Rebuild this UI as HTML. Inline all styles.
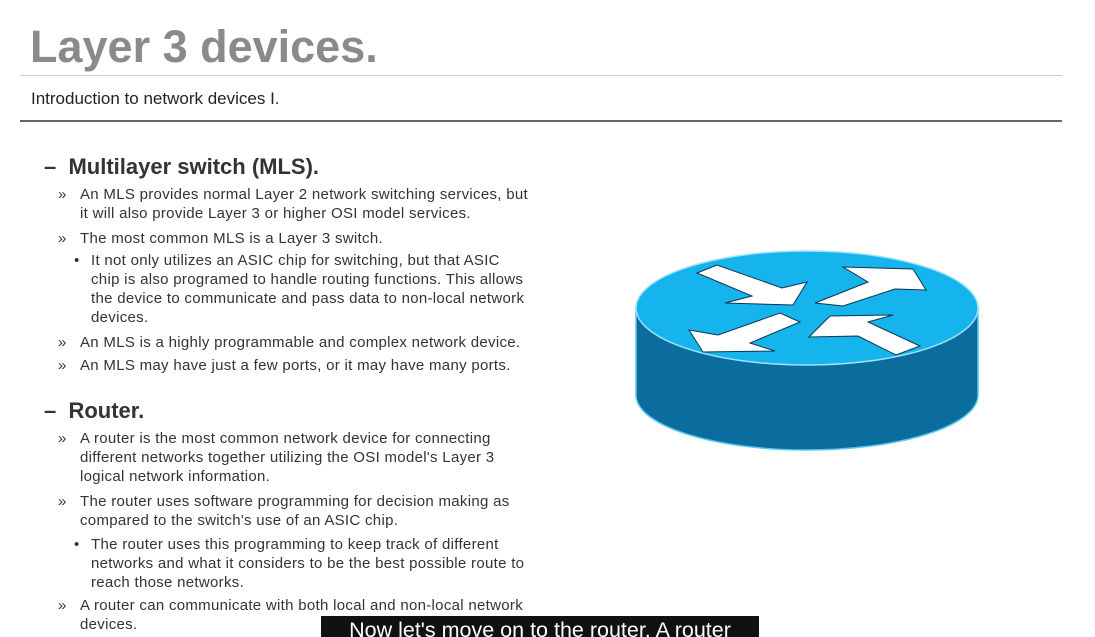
<!DOCTYPE html>
<html><head><style>
body{margin:0;width:1095px;height:637px;background:#fff;overflow:hidden;position:relative;font-family:"Liberation Sans",Arial,sans-serif;color:#222}
.a{position:absolute;white-space:nowrap}
.h{font-size:22px;font-weight:bold;color:#333}
.b{font-size:15px;letter-spacing:0.3px;color:#333;line-height:19px}
</style></head><body>
<div class="a" style="left:30px;top:21px;font-size:45px;font-weight:bold;color:#8a8a8a">Layer 3 devices.</div>
<div class="a" style="left:20px;top:75px;width:1042px;height:1px;background:#ccc"></div>
<div class="a" style="left:31px;top:89px;font-size:17px;color:#222">Introduction to network devices I.</div>
<div class="a" style="left:20px;top:120px;width:1042px;height:2px;background:#666"></div>

<div class="a h" style="left:44px;top:154px">–&nbsp; Multilayer switch (MLS).</div>
<div class="a b" style="left:58px;top:185px">»</div>
<div class="a b" style="left:80px;top:185px">An MLS provides normal Layer 2 network switching services, but<br>it will also provide Layer 3 or higher OSI model services.</div>
<div class="a b" style="left:58px;top:229px">»</div>
<div class="a b" style="left:80px;top:229px">The most common MLS is a Layer 3 switch.</div>
<div class="a b" style="left:74px;top:251px">•</div>
<div class="a b" style="left:91px;top:251px">It not only utilizes an ASIC chip for switching, but that ASIC<br>chip is also programed to handle routing functions. This allows<br>the device to communicate and pass data to non-local network<br>devices.</div>
<div class="a b" style="left:58px;top:333px">»</div>
<div class="a b" style="left:80px;top:333px">An MLS is a highly programmable and complex network device.</div>
<div class="a b" style="left:58px;top:356px">»</div>
<div class="a b" style="left:80px;top:356px">An MLS may have just a few ports, or it may have many ports.</div>

<div class="a h" style="left:44px;top:398px">–&nbsp; Router.</div>
<div class="a b" style="left:58px;top:429px">»</div>
<div class="a b" style="left:80px;top:429px">A router is the most common network device for connecting<br>different networks together utilizing the OSI model's Layer 3<br>logical network information.</div>
<div class="a b" style="left:58px;top:492px">»</div>
<div class="a b" style="left:80px;top:492px">The router uses software programming for decision making as<br>compared to the switch's use of an ASIC chip.</div>
<div class="a b" style="left:74px;top:535px">•</div>
<div class="a b" style="left:91px;top:535px">The router uses this programming to keep track of different<br>networks and what it considers to be the best possible route to<br>reach those networks.</div>
<div class="a b" style="left:58px;top:596px">»</div>
<div class="a b" style="left:80px;top:596px">A router can communicate with both local and non-local network<br>devices.</div>

<svg class="a" style="left:0;top:0" width="1095" height="637">
<path d="M636 308 L636 395 A171 55 0 0 0 978 395 L978 308 Z" fill="#0a6d9e" stroke="#5cc8f0" stroke-width="1.5"/>
<ellipse cx="807" cy="308" rx="171" ry="57" fill="#15b4ec" stroke="#9fe2fb" stroke-width="1.5"/>
<g fill="#fff" stroke="#0a3550" stroke-width="1">
<polygon points="697,273 717,265 782,288 807,282 793,305 725,303 752,296"/>
<polygon points="815,303 868,282 843,267 913,269 926,290 895,289 843,306"/>
<polygon points="689,330 703,352 775,351 750,343 800,322 780,313 718,335"/>
<polygon points="809,337 830,316 893,315 868,322 920,346 896,355 858,336"/>
</g>
</svg>

<div class="a" style="left:321px;top:616px;width:438px;height:21px;background:#111;color:#fff;font-size:21.5px;line-height:28px;text-align:center;overflow:hidden">Now let's move on to the router. A router</div>
</body></html>
